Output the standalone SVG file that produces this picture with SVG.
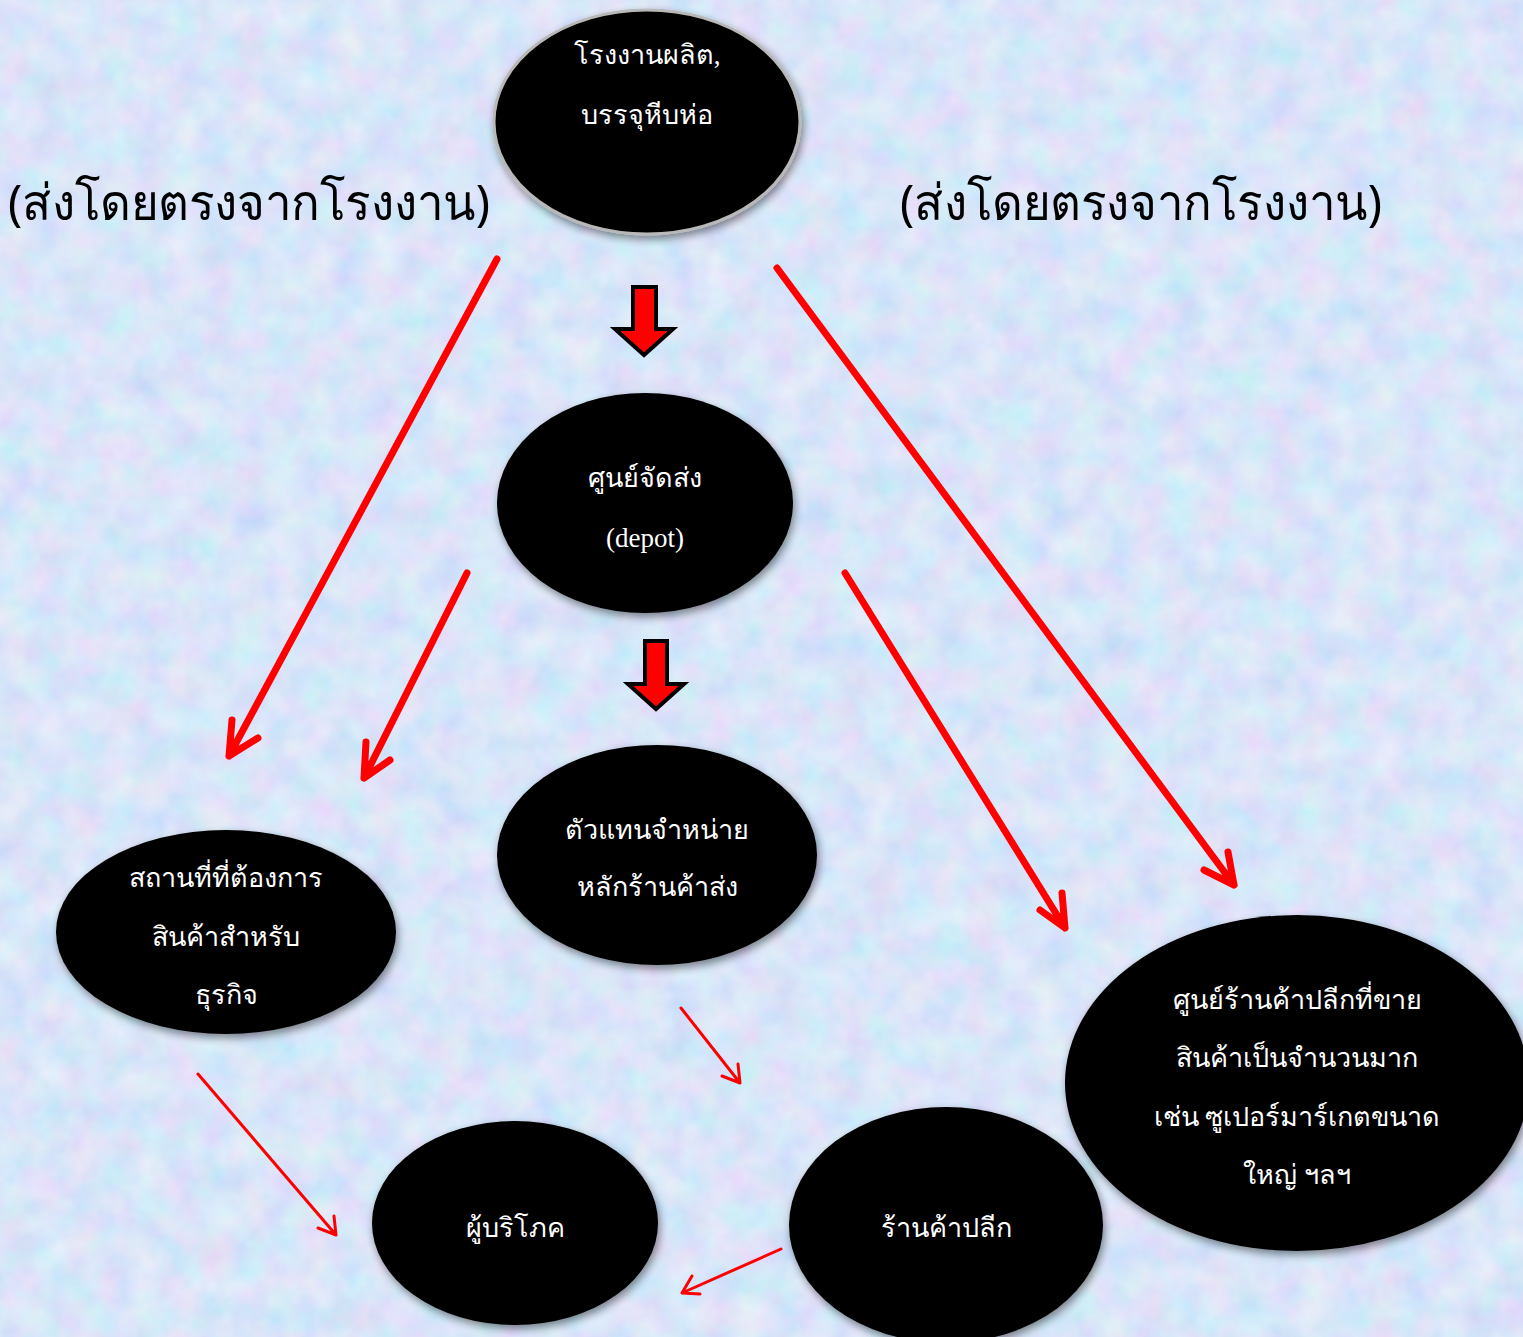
<svg xmlns="http://www.w3.org/2000/svg" width="1523" height="1337" viewBox="0 0 1523 1337">
  <style>
    .node { fill: #000; filter: url(#shadow); }
    .rim { stroke: #b8b8b8; stroke-width: 3; }
    .lbl { font-family: "Liberation Serif", "Noto Sans", serif; font-size: 27px; fill: #fff; text-anchor: middle; }
    .side { font-family: "Noto Sans", "DejaVu Sans", sans-serif; font-size: 50px; fill: #000; }
    .thick { stroke: #ff0000; stroke-width: 7; fill: none; stroke-linecap: round; stroke-linejoin: round; }
    .thin { stroke: #ff0000; stroke-width: 3; fill: none; stroke-linecap: round; stroke-linejoin: round; }
    .block { fill: #ff0000; stroke: #000; stroke-width: 4; stroke-linejoin: miter; }
  </style>
  <defs>
    <filter id="shadow" x="-10%" y="-10%" width="125%" height="130%">
      <feGaussianBlur in="SourceAlpha" stdDeviation="4"/>
      <feOffset dx="2" dy="4" result="b"/>
      <feComponentTransfer><feFuncA type="linear" slope="0.45"/></feComponentTransfer>
      <feMerge><feMergeNode/><feMergeNode in="SourceGraphic"/></feMerge>
    </filter>
    <filter id="mottle" x="0" y="0" width="100%" height="100%">
      <feTurbulence type="fractalNoise" baseFrequency="0.03" numOctaves="3" seed="7"/>
      <feColorMatrix type="matrix" values="0.7 0 0 0 0.45  0 0.45 0 0 0.62  0 0 0.2 0 0.86  0 0 0 0 0.6"/>
    </filter>
  </defs>

  <!-- paper background -->
  <rect width="1523" height="1337" fill="#c4daf6"/>
  <rect width="1523" height="1337" filter="url(#mottle)"/>

  <!-- side captions -->
  <text class="side" x="8" y="220" textLength="482" lengthAdjust="spacingAndGlyphs">(ส่งโดยตรงจากโรงงาน)</text>
  <text class="side" x="900" y="220" textLength="482" lengthAdjust="spacingAndGlyphs">(ส่งโดยตรงจากโรงงาน)</text>

  <g id="connectors">
    <!-- factory straight to business buyers -->
    <path class="thick" d="M497,259 L229,756 M232,720 L229,756 L258,738"/>
    <!-- depot to business buyers -->
    <path class="thick" d="M467,573 L364,778 M366,742 L364,778 L390,760"/>
    <!-- depot to large retail centres -->
    <path class="thick" d="M845,573 L1065,928 M1062,893 L1065,928 L1040,910"/>
    <!-- factory straight to large retail centres -->
    <path class="thick" d="M777,268 L1234,885 M1228,852 L1234,885 L1204,870"/>
    <!-- wholesaler to retail shop -->
    <path class="thin" d="M681,1008 L740,1083 M738,1064 L740,1083 L722,1076"/>
    <!-- business buyers to consumer -->
    <path class="thin" d="M198,1074 L336,1235 M334,1216 L336,1235 L318,1228"/>
    <!-- retail shop to consumer -->
    <path class="thin" d="M781,1249 L682,1293 M692,1276 L682,1293 L700,1294"/>
    <!-- block arrows down the main chain -->
    <path class="block" d="M633,287 L656,287 L656,329 L673,329 L644,355 L615,329 L633,329 Z"/>
    <path class="block" d="M645,641 L667,641 L667,684 L684,684 L656,709 L628,684 L645,684 Z"/>
  </g>

  <g id="factory">
    <ellipse class="node rim" cx="647" cy="122" rx="153" ry="112"/>
    <text class="lbl" x="647" y="64">โรงงานผลิต,</text>
    <text class="lbl" x="647" y="124">บรรจุหีบห่อ</text>
  </g>

  <g id="depot">
    <ellipse class="node" cx="645" cy="503" rx="148" ry="110"/>
    <text class="lbl" x="645" y="487">ศูนย์จัดส่ง</text>
    <text class="lbl" x="645" y="547">(depot)</text>
  </g>

  <g id="wholesaler">
    <ellipse class="node" cx="657" cy="855" rx="160" ry="110"/>
    <text class="lbl" x="657" y="839">ตัวแทนจำหน่าย</text>
    <text class="lbl" x="657" y="896">หลักร้านค้าส่ง</text>
  </g>

  <g id="business">
    <ellipse class="node" cx="226" cy="932" rx="170" ry="102"/>
    <text class="lbl" x="226" y="887">สถานที่ที่ต้องการ</text>
    <text class="lbl" x="226" y="946">สินค้าสำหรับ</text>
    <text class="lbl" x="226" y="1004">ธุรกิจ</text>
  </g>

  <g id="retail-centre">
    <ellipse class="node" cx="1297" cy="1083" rx="232" ry="168"/>
    <text class="lbl" x="1297" y="1009">ศูนย์ร้านค้าปลีกที่ขาย</text>
    <text class="lbl" x="1297" y="1067">สินค้าเป็นจำนวนมาก</text>
    <text class="lbl" x="1297" y="1126">เช่น ซูเปอร์มาร์เกตขนาด</text>
    <text class="lbl" x="1297" y="1184">ใหญ่ ฯลฯ</text>
  </g>

  <g id="consumer">
    <ellipse class="node" cx="515" cy="1223" rx="143" ry="102"/>
    <text class="lbl" x="515" y="1237">ผู้บริโภค</text>
  </g>

  <g id="retail-shop">
    <ellipse class="node" cx="946" cy="1225" rx="157" ry="118"/>
    <text class="lbl" x="946" y="1237">ร้านค้าปลีก</text>
  </g>
</svg>
